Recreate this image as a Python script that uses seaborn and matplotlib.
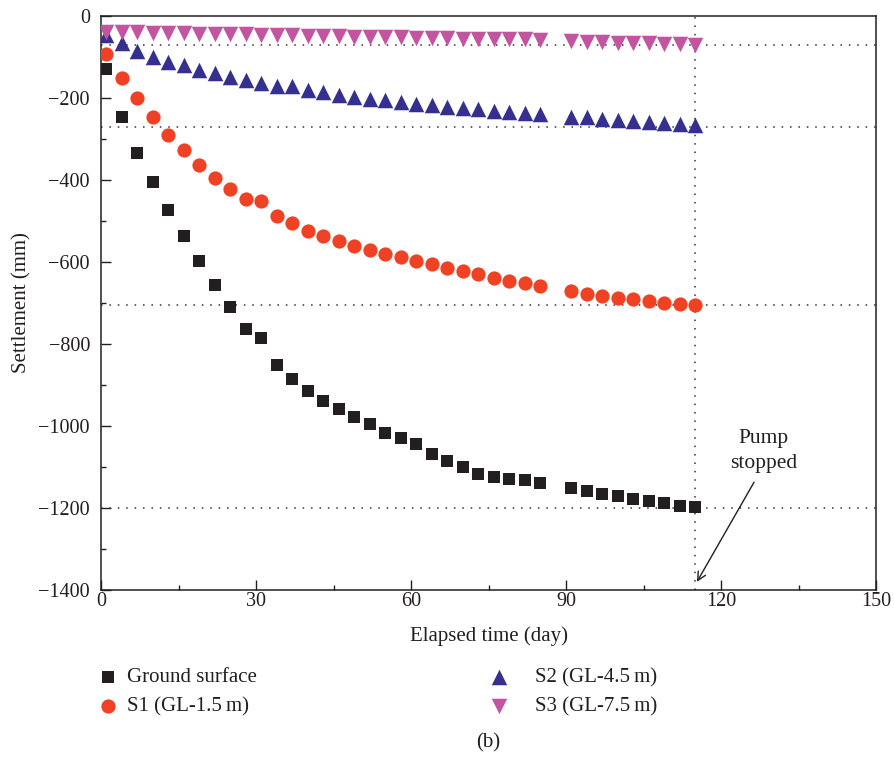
import numpy as np
import pandas as pd
import matplotlib
matplotlib.use("Agg")
import matplotlib.pyplot as plt
import seaborn as sns
from matplotlib.ticker import MultipleLocator

days = [1, 4, 7, 10, 13, 16, 19, 22, 25, 28, 31, 34, 37, 40, 43, 46, 49, 52, 55, 58,
        61, 64, 67, 70, 73, 76, 79, 82, 85, 91, 94, 97, 100, 103, 106, 109, 112, 115]

ground = [-130, -247, -333, -404, -473, -536, -597, -655, -710, -764, -785, -850, -886,
          -914, -938, -958, -979, -995, -1016, -1029, -1043, -1068, -1085, -1100, -1117,
          -1125, -1130, -1132, -1139, -1152, -1159, -1167, -1171, -1178, -1182, -1189,
          -1194, -1197]
s1 = [-92, -150, -201, -247, -290, -327, -363, -394, -423, -446, -450, -487, -506, -524,
      -536, -549, -560, -571, -580, -589, -598, -606, -614, -623, -630, -638, -646, -652,
      -659, -671, -677, -682, -687, -691, -696, -699, -702, -704]
s2 = [-46, -65, -85, -99, -111, -120, -132, -140, -148, -156, -164, -171, -171, -180,
      -186, -193, -197, -202, -206, -209, -215, -218, -221, -224, -228, -231, -233, -237,
      -240, -246, -247, -250, -253, -255, -259, -261, -263, -266]
s3 = [-38, -39, -40, -41, -42, -42, -43, -44, -45, -45, -46, -47, -47, -48, -49, -49,
      -50, -51, -51, -52, -53, -53, -54, -55, -55, -56, -57, -57, -59, -62, -63, -64,
      -66, -66, -67, -68, -68, -70]

series_names = ["Ground surface", "S1 (GL-1.5\u2009m)", "S2 (GL-4.5\u2009m)", "S3 (GL-7.5\u2009m)"]
final_levels = [-1200, -705, -270, -70]
pump_stop_day = 115

colors = ["#231f20", "#ef4123", "#35308f", "#c355a0"]
markers = ["s", "o", "^", "v"]
sizes = [80, 105, 125, 125]
ink = "#231f20"

sns.set_theme(style="ticks")
plt.rcParams["font.family"] = ["Liberation Serif", "DejaVu Serif"]

rows = []
for name, vals in zip(series_names, [ground, s1, s2, s3]):
    for d, v in zip(days, vals):
        rows.append({"day": d, "settlement": v, "series": name})
df = pd.DataFrame(rows)

fig = plt.figure(figsize=(8.94, 7.58), dpi=100)
ax = fig.add_axes([101 / 894, 1 - 590 / 758, 775 / 894, 574 / 758])

for y in final_levels:
    ax.axhline(y, color="#333333", lw=1.1, ls=(0, (1, 4.5)), zorder=1)
ax.axvline(pump_stop_day, color="#333333", lw=1.1, ls=(0, (1, 4.5)), zorder=1)

for name, c, m, s in zip(series_names, colors, markers, sizes):
    sub = df[df["series"] == name]
    sns.scatterplot(data=sub, x="day", y="settlement", color=c, marker=m, s=s,
                    linewidth=0, ax=ax, label=name, zorder=3, legend=False)

ax.set_xlim(0, 150)
ax.set_ylim(-1400, 0)
ax.xaxis.set_major_locator(MultipleLocator(30))
ax.xaxis.set_minor_locator(MultipleLocator(15))
ax.yaxis.set_major_locator(MultipleLocator(200))
ax.yaxis.set_minor_locator(MultipleLocator(100))
ax.tick_params(which="both", direction="in", top=False, right=False,
               labelsize=14.5, colors=ink, width=1)
ax.tick_params(axis="x", pad=1.5)
ax.tick_params(axis="y", pad=8)
ax.tick_params(which="major", length=7)
ax.tick_params(which="minor", length=3.5)
for sp in ax.spines.values():
    sp.set_color(ink)
    sp.set_linewidth(1.1)

ax.set_xlabel("Elapsed time (day)", fontsize=15, color=ink, labelpad=11)
ax.set_ylabel("Settlement (mm)", fontsize=15, color=ink)
ax.yaxis.set_label_coords((31 - 101) / 775, 0.5)

# arrow and text for pump stop
ax.annotate("", xy=(115.35, -1380), xytext=(126.4, -1137),
            arrowprops=dict(arrowstyle="->", color=ink, lw=1,
                            shrinkA=0, shrinkB=0, mutation_scale=15))
ax.text(128.2, -1061, "Pump\nstopped", ha="center", va="center", fontsize=15.5,
        color=ink, linespacing=1.4)

handles = ax.collections
h1, h2 = handles[0:2], handles[2:4]
leg1 = ax.legend(h1, series_names[0:2], loc="center left",
                 bbox_to_anchor=((98 - 101) / 775, (590 - 692) / 574),
                 frameon=False, fontsize=15, handlelength=1.0, handletextpad=0.4,
                 labelspacing=0.45, borderaxespad=0, borderpad=0)
ax.add_artist(leg1)
leg2 = ax.legend(h2, series_names[2:4], loc="center left",
                 bbox_to_anchor=((489 - 101) / 775, (590 - 692) / 574),
                 frameon=False, fontsize=15, handlelength=1.0, handletextpad=1.2,
                 labelspacing=0.45, borderaxespad=0, borderpad=0)
for lg in (leg1, leg2):
    for t in lg.get_texts():
        t.set_color(ink)

fig.text(488 / 894, 1 - 743 / 758, "(b)", ha="center", va="center", fontsize=15,
         color=ink)

fig.savefig("out.png", dpi=100)
